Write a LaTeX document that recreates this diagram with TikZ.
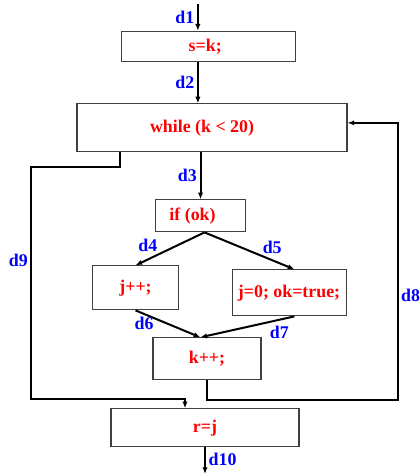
\documentclass[tikz,border=0pt]{standalone}
\usepackage{fontspec}
\setmainfont{Liberation Serif}
\usepackage{xcolor}
\definecolor{stmt-red}{HTML}{FF0000}
\definecolor{edge-blue}{HTML}{0000FF}
\usepackage{tikz}
\usetikzlibrary{arrows.meta, positioning, calc}

\begin{document}
\begin{tikzpicture}[
            every node/.style={font=\fontsize{13.4}{15}\selectfont\bfseries},
            stmtbox/.style={rectangle, draw=black!75, line width=0.8pt, text=stmt-red, align=center, inner sep=2pt},
            edgelbl/.style={text=edge-blue, inner sep=2pt},
            arrow/.style={-{Latex[length=5pt, width=4pt]}, line width=1.5pt}
        ]

        \useasboundingbox (-156.4pt,34.9pt) rectangle (158.6pt,-320.6pt);

        % --- STATEMENTS ---
        \node[stmtbox, minimum width=131pt, minimum height=23pt] (sk) at (0,0) {s=k;\hspace*{5pt}};

        \node[stmtbox, minimum width=202.5pt, minimum height=36pt, below=30.7pt of sk, xshift=2.6pt] (wh) {while (k {\textless} 20)\hspace*{15pt}};

        \node[stmtbox, minimum width=67pt, minimum height=24pt, below=35.2pt of wh, xshift=-8.6pt] (ifok) {if (ok)\hspace*{12pt}};

        \node[stmtbox, minimum width=64pt, minimum height=33pt, below=24.7pt of ifok, xshift=-48.75pt] (jpp) {j++;};

        \node[stmtbox, minimum width=85.5pt, minimum height=34.5pt, below=27.7pt of ifok, xshift=66.4pt] (jok) {j=0; ok=true;};

        \node[stmtbox, minimum width=81pt, minimum height=31.5pt, below=20.2pt of jpp, xshift=53.6pt] (kpp) {k++;};

        \node[stmtbox, minimum width=141pt, minimum height=28.5pt, below=20.9pt of kpp, xshift=-1.5pt] (rj) {r=j};

        % --- ENTRY / EXIT ---
        \coordinate[above=20pt of sk.north, xshift=-8pt] (entry);
        \coordinate[below=20pt of rj.south] (exit);

        % --- EDGES ---
        \draw[arrow] (entry) -- node[edgelbl, left] {d1} ([xshift=-8pt]sk.north);
        \draw[arrow] ([xshift=-8pt]sk.south) -- node[edgelbl, left] {d2} ([xshift=-8pt]sk.south |- wh.north);
        \draw[arrow] (ifok.north |- wh.south) -- node[edgelbl, left] {d3} (ifok.north);
        \draw[arrow] ([xshift=3pt]ifok.south) -- node[edgelbl, pos=0.4, left=12pt] {d4} (jpp.north);
        \draw[arrow] ([xshift=3pt]ifok.south) -- node[edgelbl, pos=0.4, right=14pt] {d5} ([xshift=4pt]jok.north);
        \draw[arrow] (jpp.south) -- node[edgelbl, pos=0.5, left=8pt] {d6} ([xshift=-5pt]kpp.north);
        \draw[arrow] ([xshift=4pt]jok.south) -- node[edgelbl, pos=0.3, below right=0pt] {d7} ([xshift=-5pt]kpp.north);
        \draw[arrow] (kpp.south) -- ++(0,-15pt) -| node[edgelbl, right, pos=0.69] {d8} ([xshift=37.5pt,yshift=3.75pt]wh.east) -- ([yshift=3.75pt]wh.east);
        \draw[arrow] ([xshift=33pt]wh.south west) -- ++(0,-11.25pt) -- ++(-66.75pt,0) |- node[edgelbl, left, pos=0.2] {d9} ([xshift=-15pt,yshift=6.75pt]rj.north) -- ([xshift=-15pt]rj.north);
        \draw[arrow] (rj.south) -- node[edgelbl, right, pos=0.45] {d10} (exit);

        \end{tikzpicture}
\end{document}
